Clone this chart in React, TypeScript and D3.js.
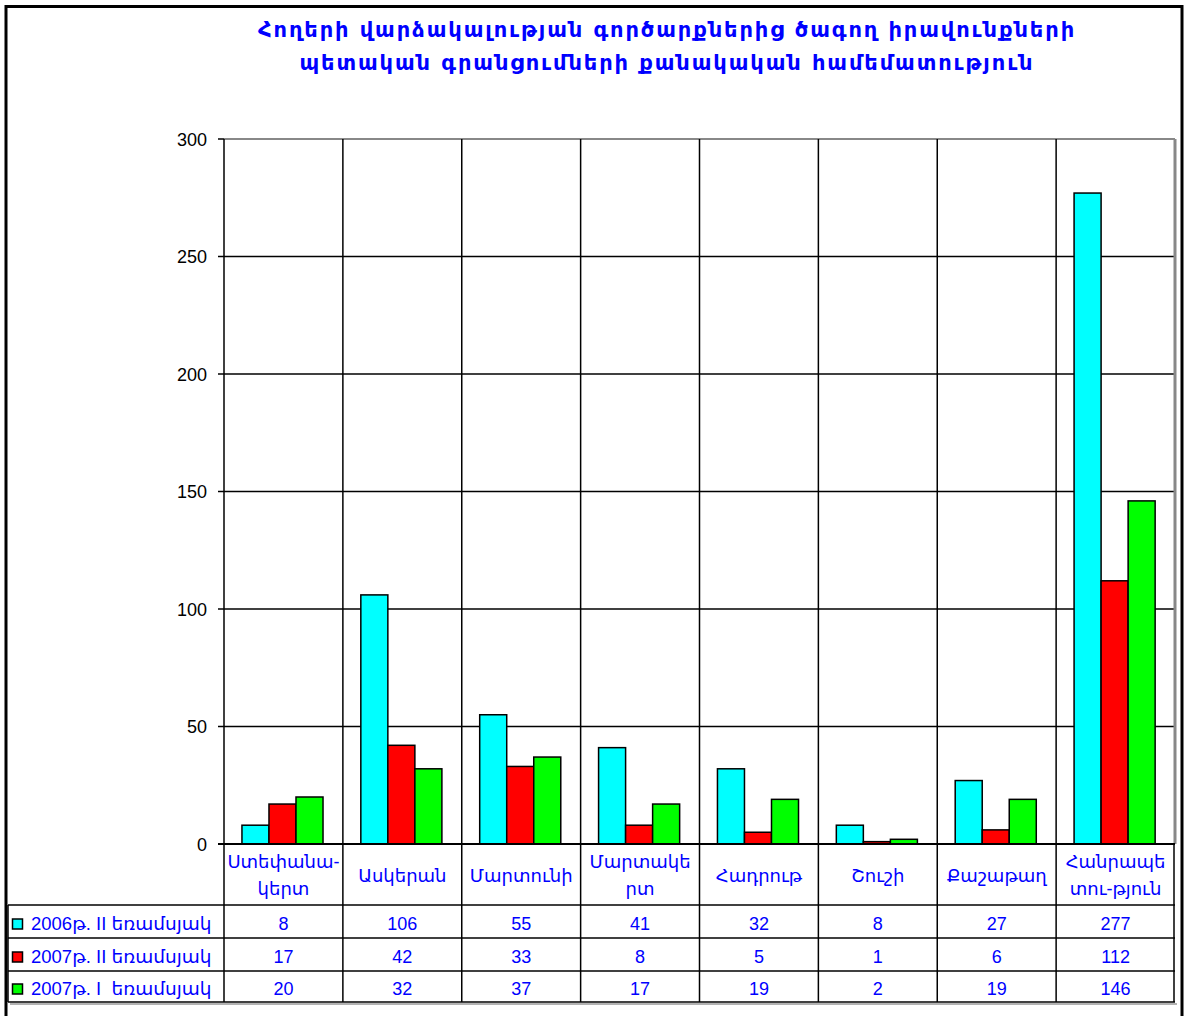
import React from "react";
import * as d3 from "d3";

const titleLines = [
  "Հողերի վարձակալության գործարքներից ծագող իրավունքների",
  "պետական գրանցումների քանակական համեմատություն",
];
const categories = ["Ստեփանակերտ", "Ասկերան", "Մարտունի", "Մարտակերտ", "Հադրութ", "Շուշի", "Քաշաթաղ", "Հանրապետություն"];
const categoryLabelLines = [
  ["Ստեփանա-", "կերտ"],
  ["Ասկերան"],
  ["Մարտունի"],
  ["Մարտակե", "րտ"],
  ["Հադրութ"],
  ["Շուշի"],
  ["Քաշաթաղ"],
  ["Հանրապե", "տու-թյուն"],
];
const seriesNames = ["2006թ. II եռամսյակ", "2007թ. II եռամսյակ", "2007թ. I  եռամսյակ"];
const seriesColors = ["#00FFFF", "#FF0000", "#00FF00"];
const s2006II = [8, 106, 55, 41, 32, 8, 27, 277];
const s2007II = [17, 42, 33, 8, 5, 1, 6, 112];
const s2007I = [20, 32, 37, 17, 19, 2, 19, 146];
const seriesValues = [s2006II, s2007II, s2007I];
const yTicks = [0, 50, 100, 150, 200, 250, 300];

const FONT = "'Liberation Sans', Arial, 'DejaVu Sans', sans-serif";
const BLUE = "#0000FF";

export default function App() {
  const W = 1184, H = 1016;
  const left = 224, right = 1175, top = 139, bottom = 844;
  const x = d3.scaleBand<string>().domain(categories).range([left, right]).paddingInner(0).paddingOuter(0);
  const bw = x.bandwidth();
  const xs = d3.scaleBand<number>().domain([0, 1, 2]).range([bw * 0.151, bw * 0.833]).padding(0);
  const y = d3.scaleLinear().domain([0, 300]).range([bottom, top]);

  const tableLeft = 8;
  const rowLines = [905, 938, 971, 1002];
  const rowBaselines = [930, 963, 995];

  return (
    <svg width={W} height={H} style={{ position: "absolute", left: 0, top: 0, background: "#fff" }} fontFamily={FONT}>
      <rect x={0} y={0} width={W} height={H} fill="#fff" />
      {/* outer border */}
      <rect x={6} y={6.5} width={1176} height={1040} fill="none" stroke="#000" strokeWidth={3} />
      {/* title */}
      {titleLines.map((t, i) => (
        <text key={i} x={667} y={37 + i * 33} textAnchor="middle" fill={BLUE} fontSize={21} fontWeight="bold" letterSpacing={1.9} fontFamily="'DejaVu Sans', sans-serif">
          {t}
        </text>
      ))}
      {/* horizontal grid */}
      {yTicks.map((t) => (
        <g key={t}>
          {t > 0 && t < 300 && <line x1={left} x2={right} y1={y(t)} y2={y(t)} stroke="#000" strokeWidth={1.5} />}
          <line x1={left - 6} x2={left} y1={y(t)} y2={y(t)} stroke="#000" strokeWidth={1.5} />
          <text x={207} y={y(t) + 6.5} textAnchor="end" fontSize={18} fill="#000">{t}</text>
        </g>
      ))}
      <line x1={left} x2={right} y1={y(300)} y2={y(300)} stroke="#888" strokeWidth={2} />
      {/* vertical category lines */}
      {categories.map((c) => (
        <line key={c} x1={x(c)!} x2={x(c)!} y1={top} y2={rowLines[3]} stroke="#000" strokeWidth={1.5} />
      ))}
      <line x1={right} x2={right} y1={top} y2={bottom} stroke="#888" strokeWidth={3} />
      <line x1={right - 1} x2={right - 1} y1={bottom} y2={rowLines[3]} stroke="#000" strokeWidth={1.5} />
      {/* bars */}
      {categories.map((c, ci) => (
        <g key={c}>
          {seriesValues.map((vals, si) => (
            <rect
              key={si}
              x={x(c)! + xs(si)!}
              y={y(vals[ci])}
              width={xs.bandwidth()}
              height={bottom - y(vals[ci])}
              fill={seriesColors[si]}
              stroke="#000"
              strokeWidth={1.5}
            />
          ))}
        </g>
      ))}
      {/* axis line */}
      <line x1={left - 6} x2={right} y1={bottom} y2={bottom} stroke="#000" strokeWidth={2} />
      {/* table lines */}
      {rowLines.map((ry, i) => (
        <line key={i} x1={tableLeft} x2={right} y1={ry} y2={ry} stroke="#000" strokeWidth={1.5} />
      ))}
      <line x1={tableLeft} x2={tableLeft} y1={rowLines[0]} y2={rowLines[3]} stroke="#000" strokeWidth={1.5} />
      <line x1={tableLeft + 2} x2={right + 2} y1={rowLines[3] + 2} y2={rowLines[3] + 2} stroke="#999" strokeWidth={1.5} />
      {/* category labels */}
      {categories.map((c, ci) => {
        const lines = categoryLabelLines[ci];
        const cx = x(c)! + bw / 2;
        const base = lines.length === 1 ? 882 : 868;
        return (
          <text key={c} x={cx} textAnchor="middle" fontSize={18} fill={BLUE}>
            {lines.map((ln, li) => (
              <tspan key={li} x={cx} y={base + li * 27}>{ln}</tspan>
            ))}
          </text>
        );
      })}
      {/* legend column + values */}
      {seriesNames.map((name, si) => (
        <g key={name}>
          <rect x={12.5} y={rowBaselines[si] - 11} width={10} height={10} fill={seriesColors[si]} stroke="#000" strokeWidth={1.5} />
          <text x={31} y={rowBaselines[si]} fontSize={18.5} fill={BLUE} style={{ whiteSpace: "pre" }}>{name}</text>
          {categories.map((c, ci) => (
            <text key={c} x={x(c)! + bw / 2} y={rowBaselines[si]} textAnchor="middle" fontSize={18} fill={BLUE}>
              {seriesValues[si][ci]}
            </text>
          ))}
        </g>
      ))}
    </svg>
  );
}
